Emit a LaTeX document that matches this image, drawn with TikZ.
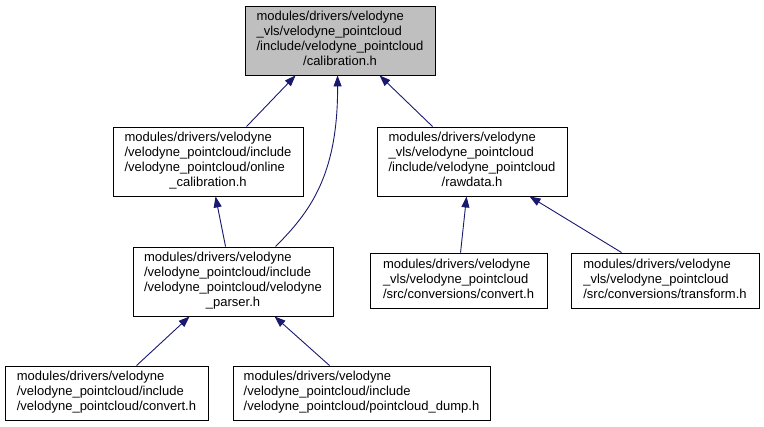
\documentclass[tikz,border=0pt]{standalone}
\usepackage{fontspec}
\setmainfont{Liberation Sans}
\usetikzlibrary{arrows.meta,calc}
\definecolor{edgeblue}{HTML}{191970}
\definecolor{topgray}{HTML}{BFBFBF}
\newcommand{\flines}[2]{\begin{tabular}{@{}l@{}}#1\\\multicolumn{1}{@{}c@{}}{#2}\end{tabular}}
\tikzset{
  filebox/.style={draw=black, line width=0.9pt, fill=white, inner sep=0pt, rectangle,
    font=\fontsize{13}{15}\selectfont},
  dep/.style={draw=edgeblue, line width=0.9pt, -{Triangle[length=11pt,width=8pt]}, fill=none}
}
\begin{document}
\begin{tikzpicture}[x=1pt,y=-1pt]
\useasboundingbox (0,0) rectangle (764,427);
\def\arraystretch{1}
\setlength{\tabcolsep}{0pt}
% nodes
\node[filebox, fill=topgray, minimum width=190pt, minimum height=69pt] (top) at (340,40.5)
  {\flines{modules/drivers/velodyne\\\_vls/velodyne\_pointcloud\\/include/velodyne\_pointcloud}{/calibration.h}};
\node[filebox, minimum width=190pt, minimum height=69pt] (online) at (208,161.5)
  {\flines{modules/drivers/velodyne\\/velodyne\_pointcloud/include\\/velodyne\_pointcloud/online}{\_calibration.h}};
\node[filebox, minimum width=190pt, minimum height=69pt] (raw) at (472,161.5)
  {\flines{modules/drivers/velodyne\\\_vls/velodyne\_pointcloud\\/include/velodyne\_pointcloud}{/rawdata.h}};
\node[filebox, minimum width=200pt, minimum height=69pt] (parser) at (233,281.5)
  {\flines{modules/drivers/velodyne\\/velodyne\_pointcloud/include\\/velodyne\_pointcloud/velodyne}{\_parser.h}};
\node[filebox, minimum width=177pt, minimum height=55pt] (cvsrc) at (458.5,280.5)
  {\flines{modules/drivers/velodyne\\\_vls/velodyne\_pointcloud}{/src/conversions/convert.h}};
\node[filebox, minimum width=188pt, minimum height=55pt] (tf) at (665,280.5)
  {\flines{modules/drivers/velodyne\\\_vls/velodyne\_pointcloud}{/src/conversions/transform.h}};
\node[filebox, minimum width=203pt, minimum height=54pt] (cvinc) at (106.5,393)
  {\flines{modules/drivers/velodyne\\/velodyne\_pointcloud/include}{/velodyne\_pointcloud/convert.h}};
\node[filebox, minimum width=257pt, minimum height=54pt] (dump) at (361.5,393)
  {\begin{tabular}{@{}l@{}}modules/drivers/velodyne\\/velodyne\_pointcloud/include\\/velodyne\_pointcloud/pointcloud\_dump.h\end{tabular}};
% edges
\draw[dep] ([xshift=134pt]online.north west) -- ([xshift=51pt]top.south west);
\draw[dep] ([xshift=143pt]parser.north west) .. controls (310,212) and (338,175) .. ([xshift=93pt]top.south west);
\draw[dep] ([xshift=56pt]raw.north west) -- ([xshift=135pt]top.south west);
\draw[dep] ([xshift=93pt]parser.north west) -- ([xshift=103pt]online.south west);
\draw[dep] ([xshift=91pt]cvsrc.north west) -- ([xshift=90pt]raw.south west);
\draw[dep] ([xshift=51pt]tf.north west) -- ([xshift=153pt]raw.south west);
\draw[dep] ([xshift=132pt]cvinc.north west) -- ([xshift=57pt]parser.south west);
\draw[dep] ([xshift=97pt]dump.north west) -- ([xshift=142pt]parser.south west);
\end{tikzpicture}
\end{document}
